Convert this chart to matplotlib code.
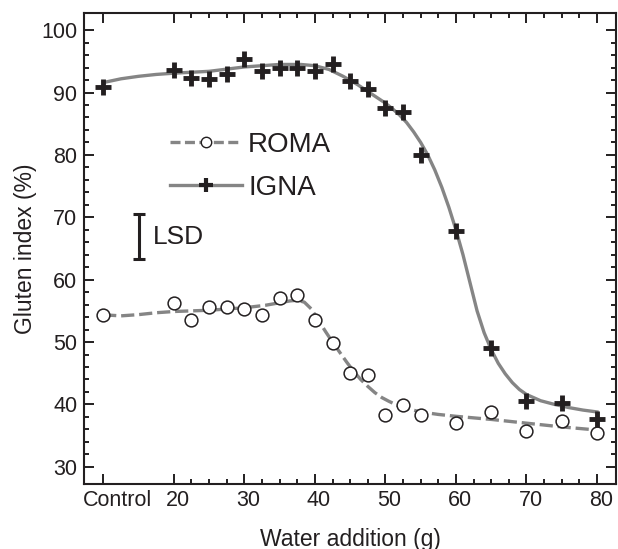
import matplotlib
matplotlib.use("Agg")
import matplotlib.pyplot as plt
import matplotlib.transforms as mtransforms
from matplotlib.lines import Line2D
import numpy as np

plt.rcParams['font.family'] = ['Liberation Sans', 'DejaVu Sans']
plt.rcParams['lines.scale_dashes'] = False

# ---- data ----
water = [10, 20, 22.5, 25, 27.5, 30, 32.5, 35, 37.5, 40, 42.5, 45, 47.5,
         50, 52.5, 55, 60, 65, 70, 75, 80]
igna = [90.9, 93.6, 92.3, 92.2, 93.0, 95.3, 93.4, 94.0, 94.0, 93.5, 94.6,
        91.9, 90.5, 87.5, 86.9, 80.0, 67.8, 49.1, 40.6, 40.3, 37.7]
roma = [54.4, 56.3, 53.5, 55.6, 55.7, 55.3, 54.4, 57.0, 57.5, 53.5, 49.9,
        45.1, 44.7, 38.3, 39.9, 38.3, 37.1, 38.8, 35.8, 37.3, 35.4]

# fitted curves
igna_fit_x = [10, 12.5, 15, 17.5, 20, 25, 30, 35, 38, 40, 42, 44, 46, 48, 50,
              51, 52, 53, 54, 55, 56, 57, 58, 59, 60, 61, 62, 63, 64, 65, 66,
              67, 68, 69, 70, 72, 74, 76, 78, 80]
igna_fit_y = [91.6, 92.2, 92.6, 92.9, 93.1, 93.4, 94.1, 94.5, 94.5, 94.3,
              93.7, 92.6, 91.3, 89.8, 88.3, 87.4, 86.4, 85.2, 83.7, 82.0,
              80.0, 77.6, 74.8, 71.6, 68.0, 64.0, 59.5, 55.0, 51.5, 48.8,
              46.6, 44.9, 43.5, 42.4, 41.6, 40.6, 40.0, 39.5, 39.1, 38.8]
roma_fit_x = [10, 11, 12.5, 15, 17.5, 20, 25, 30, 33, 35, 36.5, 37.5, 38.5,
              39.5, 40.5, 41.5, 42.5, 43.5, 44.5, 45.5, 46.5, 47.5, 48.5,
              49.5, 50.5, 52, 53.5, 55, 57.5, 60, 65, 70, 75, 80]
roma_fit_y = [54.6, 54.3, 54.2, 54.4, 54.7, 54.9, 55.1, 55.5, 55.9, 56.3,
              56.6, 56.7, 56.4, 55.3, 53.5, 51.7, 50.0, 48.4, 46.8, 45.3,
              44.0, 42.9, 41.9, 41.1, 40.5, 39.7, 39.2, 38.8, 38.4, 38.1,
              37.6, 37.0, 36.4, 35.9]

xticks = [10, 20, 30, 40, 50, 60, 70, 80]
xticklabels = ['Control', '20', '30', '40', '50', '60', '70', '80']
yticks = [30, 40, 50, 60, 70, 80, 90, 100]

lsd_x = 15.1
lsd_center = 66.9
lsd_value = 7.2

# ---- style ----
dark = '#231f20'
gray = '#858585'

fig = plt.figure(figsize=(6.18, 5.49), dpi=100)
ax = fig.add_axes([84.3 / 618, 1 - 484.3 / 549, (616 - 84.3) / 618, (484.3 - 13.3) / 549])

ax.plot(roma_fit_x, roma_fit_y, color=gray, lw=2.4, dashes=(9.5, 3.5), zorder=2)
ax.plot(igna_fit_x, igna_fit_y, color=gray, lw=2.4, zorder=2)
ax.plot(water, roma, ls='none', marker='o', ms=9.2, mfc='white', mec=dark,
        mew=1.1, zorder=3)
ax.plot(water, igna, ls='none', marker='+', ms=11.5, mec=dark, mew=3.5, zorder=4)

ax.errorbar([lsd_x], [lsd_center], yerr=[lsd_value / 2], color=dark, lw=2.2,
            capsize=4.6, capthick=2.2, zorder=3)
ax.text(lsd_x + 1.95, lsd_center, 'LSD', fontsize=19, color=dark,
        va='center', ha='left')

handles = [Line2D([], [], color=gray, lw=2.4, dashes=(7.2, 3.2), marker='o',
                  ms=7.5, mfc='white', mec=dark, mew=1.0),
           Line2D([], [], color=gray, lw=2.4, marker='+', ms=9.5, mec=dark,
                  mew=3.0)]
leg = ax.legend(handles, ['ROMA', 'IGNA'], loc='upper left',
                bbox_to_anchor=(0.161, 0.748), frameon=False, fontsize=20,
                handlelength=2.6, handletextpad=0.22, labelspacing=0.6,
                borderpad=0, borderaxespad=0)
for t in leg.get_texts():
    t.set_color(dark)

ax.set_xlim(7.3, 82.7)
ax.set_ylim(27.2, 102.7)
ax.set_xticks(xticks)
ax.set_xticklabels(xticklabels)
ax.set_xticks(list(np.arange(22.5, 80, 2.5)), minor=True)
ax.set_yticks(yticks)
ax.set_yticks(list(np.arange(32, 100, 2)), minor=True)

ax.tick_params(which='both', direction='in', top=True, right=True,
               color=dark, width=1.4, labelsize=15.5, labelcolor=dark)
ax.tick_params(which='major', length=7.5, pad=4)
ax.tick_params(which='minor', length=3.6)
ax.tick_params(axis='y', which='major', pad=5)
for s in ax.spines.values():
    s.set_color(dark)
    s.set_linewidth(1.5)

# shift x tick labels slightly right like reference
for i, lab in enumerate(ax.get_xticklabels()):
    dx = 14 / 100 if i == 0 else 4 / 100
    lab.set_transform(lab.get_transform() + mtransforms.ScaledTranslation(dx, 0, fig.dpi_scale_trans))

ax.set_xlabel('Water addition (g)', fontsize=16.5, color=dark, labelpad=12)
ax.set_ylabel('Gluten index (%)', fontsize=16.5, color=dark, labelpad=3)

fig.savefig('out.png', dpi=100)
